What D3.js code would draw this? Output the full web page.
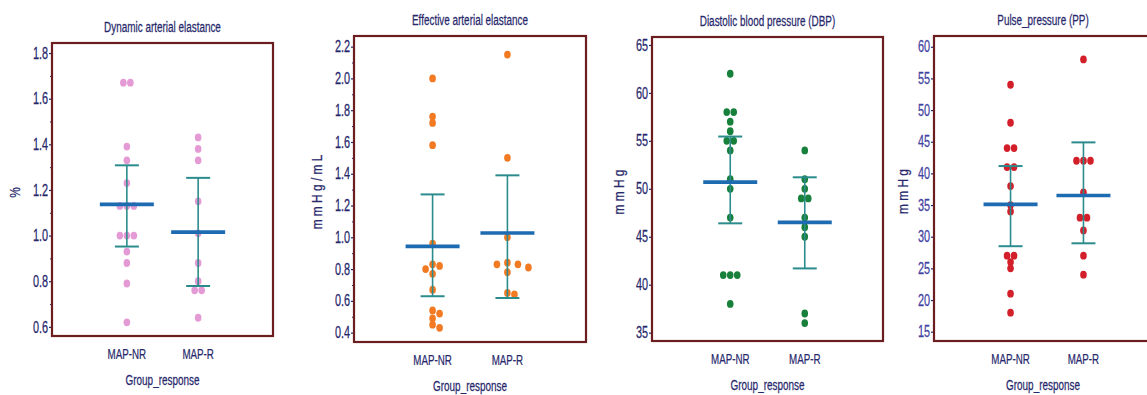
<!DOCTYPE html>
<html>
<head>
<meta charset="utf-8">
<script src="https://cdn.jsdelivr.net/npm/d3@7"></script>
<style>
  body { margin: 0; background: #fff; }
  svg { display: block; font-family: "Liberation Sans", Arial, sans-serif; }
</style>
</head>
<body>
<svg id="chart" width="1147" height="395"></svg>
<script>
const groups = ['MAP-NR', 'MAP-R'];

// Dynamic arterial elastance (%)
const eadynNR = [1.67, 1.67, 1.39, 1.33, 1.23, 1.13, 1.13, 1.13, 1.00, 1.00, 1.00, 0.93, 0.88, 0.79, 0.62];
const eadynR = [1.43, 1.38, 1.33, 1.15, 1.01, 0.88, 0.80, 0.76, 0.76, 0.64];
const eadynMean = [1.137, 1.015];
const eadynLow = [0.952, 0.779];
const eadynHigh = [1.308, 1.253];
const eadynTicks = [0.6, 0.8, 1.0, 1.2, 1.4, 1.6, 1.8];
const eadynMinor = [0.7, 0.9, 1.1, 1.3, 1.5, 1.7];

// Effective arterial elastance (mmHg/mL)
const eaNR = [2.00, 1.76, 1.72, 1.58, 0.96, 0.83, 0.82, 0.80, 0.77, 0.67, 0.54, 0.52, 0.49, 0.45, 0.43];
const eaR = [2.15, 1.50, 1.00, 0.84, 0.83, 0.83, 0.81, 0.78, 0.65, 0.64];
const eaMean = [0.943, 1.027];
const eaLow = [0.629, 0.618];
const eaHigh = [1.27, 1.39];
const eaTicks = [0.4, 0.6, 0.8, 1.0, 1.2, 1.4, 1.6, 1.8, 2.0, 2.2];
const eaMinor = [0.5, 0.7, 0.9, 1.1, 1.3, 1.5, 1.7, 1.9, 2.1];

// Diastolic blood pressure (mmHg)
const dbpNR = [62, 58, 58, 57, 56, 55, 55, 54, 51, 50, 47, 41, 41, 41, 38];
const dbpR = [54, 51, 50, 49, 49, 47, 46, 45, 37, 36];
const dbpMean = [50.7, 46.5];
const dbpLow = [46.4, 41.7];
const dbpHigh = [55.45, 51.2];
const dbpTicks = [35, 40, 45, 50, 55, 60, 65];

// Pulse pressure (mmHg)
const ppNR = [54, 48, 44, 44, 41, 41, 38, 35, 34, 27, 27, 26, 25, 21, 18];
const ppR = [58, 42, 42, 42, 37, 33, 33, 31, 27, 24];
const ppMean = [35.1, 36.5];
const ppLow = [28.5, 28.96];
const ppHigh = [41.16, 44.9];
const ppTicks = [15, 20, 25, 30, 35, 40, 45, 50, 55, 60];

const ink = '#27286b';
const frameColor = '#6b1d1f';
const meanColor = '#1d6bb0';
const barColor = '#2c8c8d';

const panels = [
  {title: 'Dynamic arterial elastance', unit: '%', series: [eadynNR, eadynR],
   mean: eadynMean, low: eadynLow, high: eadynHigh, ticks: eadynTicks, minor: eadynMinor,
   domain: [0.56, 1.844], fmt: d3.format('.1f'), color: '#e49ad4',
   box: {x0: 52, x1: 273, y0: 43, y1: 336}, unitX: 20, tickFill: ink},
  {title: 'Effective arterial elastance', unit: 'm m H g / m L', series: [eaNR, eaR],
   mean: eaMean, low: eaLow, high: eaHigh, ticks: eaTicks, minor: eaMinor,
   domain: [0.341, 2.267], fmt: d3.format('.1f'), color: '#f27a22',
   box: {x0: 354, x1: 586, y0: 36, y1: 342}, unitX: 322, tickFill: ink},
  {title: 'Diastolic blood pressure (DBP)', unit: 'm m H g', series: [dbpNR, dbpR],
   mean: dbpMean, low: dbpLow, high: dbpHigh, ticks: dbpTicks, minor: [],
   domain: [34.13, 65.83], fmt: d3.format('d'), color: '#17803a',
   box: {x0: 652, x1: 883, y0: 37, y1: 341}, unitX: 624, tickFill: ink},
  {title: 'Pulse_pressure (PP)', unit: 'm m H g', series: [ppNR, ppR],
   mean: ppMean, low: ppLow, high: ppHigh, ticks: ppTicks, minor: [],
   domain: [13.53, 61.7], fmt: d3.format('d'), color: '#d21f2a',
   box: {x0: 934, x1: 1160, y0: 36, y1: 341}, unitX: 908, tickFill: '#3f43a0'}
];

const svg = d3.select('#chart');

// condensed text: plain Liberation Sans squeezed horizontally
function label(g, str, x, y, opt = {}) {
  const rot = opt.rotate ? ' rotate(-90)' : '';
  return g.append('text')
    .attr('transform', `translate(${x},${y})${rot} scale(${opt.sx || 0.64},1)`)
    .attr('text-anchor', opt.anchor || 'middle')
    .attr('font-size', opt.size || 15.5)
    .attr('fill', opt.fill || ink)
    .attr('stroke', opt.fill || ink)
    .attr('stroke-width', 0.25)
    .text(str);
}

// simple swarm: equal values spread symmetrically, near values pushed aside
function swarm(vals, y, cx, step) {
  const counts = d3.rollup(vals, v => v.length, d => d);
  const seen = new Map();
  const placed = [];
  return vals.map(v => {
    const n = counts.get(v);
    const k = seen.get(v) || 0;
    seen.set(v, k + 1);
    const base = (k - (n - 1) / 2) * step;
    const py = y(v);
    let off = base;
    for (let i = 0; i < 10; i++) {
      const c = base + (i === 0 ? 0 : (i % 2 ? 1 : -1) * Math.ceil(i / 2) * step);
      if (placed.every(p => Math.hypot(p.x - (cx + c), p.y - py) >= 5.5)) { off = c; break; }
    }
    const pt = {x: cx + off, y: py};
    placed.push(pt);
    return pt;
  });
}

panels.forEach(p => {
  const b = p.box;
  const g = svg.append('g');

  const x = d3.scalePoint().domain(groups).range([b.x0, b.x1]).padding(1.05);
  const y = d3.scaleLinear().domain(p.domain).range([b.y1, b.y0]);

  // y axis
  const ax = g.append('g')
    .attr('transform', `translate(${b.x0},0)`)
    .call(d3.axisLeft(y).tickValues(p.ticks).tickSize(3).tickPadding(1).tickFormat(p.fmt));
  ax.select('.domain').remove();
  ax.selectAll('line').attr('stroke', ink).attr('stroke-width', 1.2);
  ax.selectAll('text')
    .attr('font-size', 16)
    .attr('fill', p.tickFill)
    .attr('stroke', p.tickFill)
    .attr('stroke-width', 0.25)
    .attr('font-family', '"Liberation Sans", Arial, sans-serif')
    .attr('x', -4 / 0.68)
    .attr('transform', 'scale(0.68,1)');

  if (p.minor.length) {
    const mx = g.append('g')
      .attr('transform', `translate(${b.x0},0)`)
      .call(d3.axisLeft(y).tickValues(p.minor).tickSize(2).tickFormat(''));
    mx.select('.domain').remove();
    mx.selectAll('line').attr('stroke', ink);
  }

  // frame
  g.append('rect')
    .attr('x', b.x0).attr('y', b.y0)
    .attr('width', b.x1 - b.x0).attr('height', b.y1 - b.y0)
    .attr('fill', 'none')
    .attr('stroke', frameColor)
    .attr('stroke-width', 2.2);

  // points
  groups.forEach((grp, i) => {
    const pts = swarm(p.series[i], y, x(grp), 7);
    g.selectAll(null)
      .data(pts)
      .enter()
      .append('ellipse')
      .attr('cx', d => d.x)
      .attr('cy', d => d.y)
      .attr('rx', 3.3)
      .attr('ry', 3.9)
      .attr('fill', p.color);
  });

  // error bars and mean
  groups.forEach((grp, i) => {
    const cx = x(grp);
    g.append('line')
      .attr('x1', cx).attr('x2', cx)
      .attr('y1', y(p.low[i])).attr('y2', y(p.high[i]))
      .attr('stroke', barColor).attr('stroke-width', 1.6);
    [p.low[i], p.high[i]].forEach(v => {
      g.append('line')
        .attr('x1', cx - 12).attr('x2', cx + 12)
        .attr('y1', y(v)).attr('y2', y(v))
        .attr('stroke', barColor).attr('stroke-width', 2);
    });
    g.append('line')
      .attr('x1', cx - 27).attr('x2', cx + 27)
      .attr('y1', y(p.mean[i])).attr('y2', y(p.mean[i]))
      .attr('stroke', meanColor).attr('stroke-width', 3.6);

    label(g, grp, cx, b.y1 + 23, {sx: 0.63});
  });

  // texts
  const mid = (b.x0 + Math.min(b.x1, 1152)) / 2;
  label(g, p.title, mid, b.y0 - 11);
  label(g, 'Group_response', mid, b.y1 + 49);
  label(g, p.unit, p.unitX, (b.y0 + b.y1) / 2 + 3, {rotate: true, sx: 0.85, size: 14});
});
</script>
</body>
</html>
